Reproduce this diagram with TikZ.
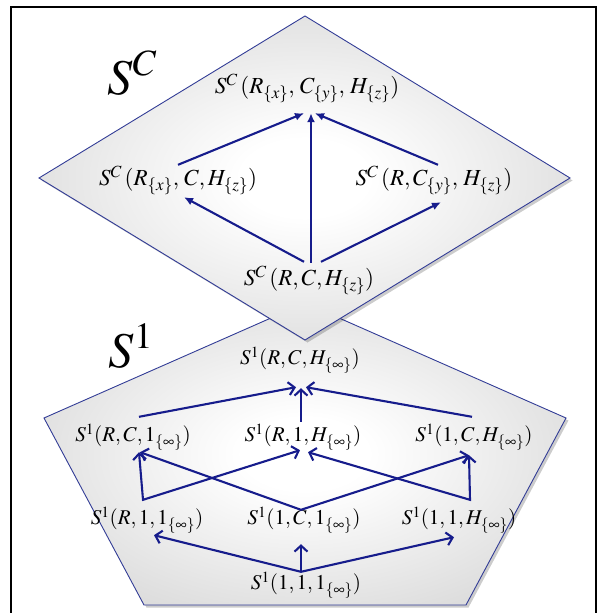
\documentclass[tikz,border=0pt]{standalone}
\usepackage{mathptmx}
\usetikzlibrary{arrows.meta,calc,shadows}

\definecolor{edgeblue}{RGB}{50,60,150}
\definecolor{arrowblue}{RGB}{22,28,140}
\pgfdeclareradialshading{panelglow}{\pgfpoint{0bp}{0bp}}{rgb(0bp)=(1,1,1);rgb(6bp)=(1,1,1);rgb(50bp)=(0.74,0.74,0.74)}

\begin{document}
\begin{tikzpicture}[
		x=1pt, y=-1pt,
		>={Straight Barb[length=6pt,width=13pt]},
		panel/.style={draw=edgeblue, line width=0.9pt, shade, shading=panelglow,
			drop shadow={shadow xshift=2.5pt, shadow yshift=-2.5pt, fill=black, opacity=0.2}},
		lab/.style={inner sep=0pt, minimum height=30pt, font=\fontsize{21}{25}\selectfont},
		wide/.style={lab, font=\fontsize{23}{27}\selectfont},
		big/.style={font=\fontsize{50}{58}\selectfont},
		link/.style={draw=arrowblue, line width=2.1pt},
		up/.style={link, -{Latex[length=9pt,width=8pt]}},
		lift/.style={link, ->},
		fork/.style={link, <->, line join=miter}
		]
		\useasboundingbox (0,0) rectangle (603,613);
		
		% --------------------------------------------------
		% frame and the two panels
		% --------------------------------------------------
		\draw[line width=2.4pt] (11,7) rectangle (596,640);
		
		\path[panel] (305,303) -- (566,418) -- (466,605) -- (144,605) -- (44,418) -- cycle;
		\path[panel] (305,16) -- (570,178) -- (305,340) -- (39,178) -- cycle;
		
		\node[big] (sc) at (132,73) {$S^{C}$};
		\node[big] (s1) at (131,346) {$S^{1}$};
		
		% --------------------------------------------------
		% UPPER PANEL: S^C
		% --------------------------------------------------
		\node[wide] (dt) at (307,88) {$S^{C}\,(R_{\{x\}},\,C_{\{y\}},\,H_{\{z\}})$};
		\node[wide] (dl) at (178,180) {$S^{C}\,(R_{\{x\}},\,C,H_{\{z\}})$};
		\node[wide] (dr) at (434,180) {$S^{C}\,(R,C_{\{y\}},\,H_{\{z\}})$};
		\node[wide] (db) at (309,280) {$S^{C}\,(R,C,H_{\{z\}})$};
		
		\draw[up] (dl.north) -- ($(dt.south)+(-3,10)$);
		\draw[up] ($(db.north)+(2,-2)$) -- ($(dt.south)+(4,10)$);
		\draw[up] ($(dr.north)+(4,0)$) -- ($(dt.south)+(8,10)$);
		\draw[up] ($(db.north)+(-5,-3)$) -- ($(dl.south)+(6,2)$);
		\draw[up] ($(db.north)+(12,-3)$) -- ($(dr.south)+(7,7)$);
		
		% --------------------------------------------------
		% LOWER PANEL: S^1
		% --------------------------------------------------
		\node[lab] (pt) at (300,360) {$S^{1}(R,C,H_{\{\infty\}})$};
		
		\node[lab] (p2l) at (133,437) {$S^{1}(R,C,1_{\{\infty\}})$};
		\node[lab] (p2m) at (303,437) {$S^{1}(R,1,H_{\{\infty\}})$};
		\node[lab] (p2r) at (474,437) {$S^{1}(1,C,H_{\{\infty\}})$};
		
		\node[lab] (p3l) at (147,520) {$S^{1}(R,1,1_{\{\infty\}})$};
		\node[lab] (p3m) at (304,520) {$S^{1}(1,C,1_{\{\infty\}})$};
		\node[lab] (p3r) at (459,520) {$S^{1}(1,1,H_{\{\infty\}})$};
		
		\node[lab] (pb) at (306,585) {$S^{1}(1,1,1_{\{\infty\}})$};
		
		% second row into the top
		\draw[lift] ($(p2l.north)+(6,-5)$) -- ($(pt.south)+(-4,12)$);
		\draw[lift] ($(p2m.north)+(-2,0)$) -- ($(pt.south)+(1,13)$);
		\draw[lift] ($(p2r.north)+(-2,-5)$) -- ($(pt.south)+(6,12)$);
		
		% third row into the second
		\draw[fork] ($(p2l.south)+(6,0)$) -- ($(p3l.north)+(-4,-5)$) -- ($(p2m.south)+(-3,-2)$);
		\draw[fork] ($(p2l.south)+(7,0)$) -- ($(p3m.north)+(-3,5)$) -- ($(p2r.south)+(-5,3)$);
		\draw[fork] ($(p2m.south)+(5,0)$) -- ($(p3r.north)+(11,-5)$) -- ($(p2r.south)+(-5,3)$);
		
		% bottom into the third row
		\draw[fork] ($(p3l.south)+(7,0)$) -- ($(pb.north)+(-5,2)$) -- ($(p3r.south)+(-5,2)$);
		\draw[lift] ($(pb.north)+(-5,2)$) -- ($(p3m.south)+(-3,9)$);
		
	\end{tikzpicture}
\end{document}
